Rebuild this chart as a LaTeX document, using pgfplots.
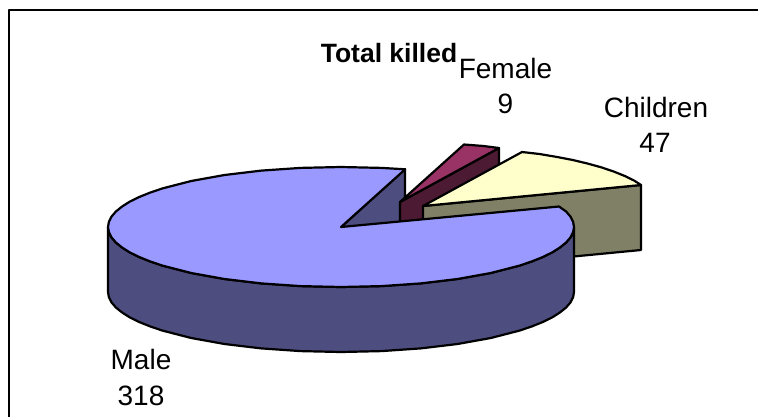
\documentclass[border=0pt]{standalone}
\usepackage{pgfplots}
\pgfplotsset{compat=1.18}
\usepackage{fontspec}
\setmainfont{Liberation Sans}
\definecolor{maletop}{HTML}{9999FF}
\definecolor{maleside}{HTML}{4D4D80}
\definecolor{femtop}{HTML}{993366}
\definecolor{femside}{HTML}{4D1A33}
\definecolor{chitop}{HTML}{FFFFCC}
\definecolor{chiside}{HTML}{808066}
\newcommand{\lbl}[3]{\node[anchor=base,inner sep=0pt,font=\fontsize{28}{32}\selectfont] at (axis cs:#1,#2) {#3};}
\begin{document}
\begin{tikzpicture}
\path[use as bounding box] (0,0) rectangle (758pt,416pt);
\begin{axis}[
  scale only axis, width=758pt, height=416pt,
  xmin=0, xmax=758, ymin=0, ymax=416, y dir=reverse,
  hide axis, clip=true,
  every axis plot/.append style={line width=2.2pt, line join=round, black},
]
% frame
\addplot[line width=1.8pt, black] coordinates {(759,10) (9,10) (9,417)};
% male inner wall
\addplot[fill=maleside] coordinates {(341,227) (405,169) (405,234) (341,292)} -- cycle;
% female wall and top
\addplot[fill=femside] coordinates {(400,202) (499,148) (499,213) (400,267)} -- cycle;
\addplot[fill=femtop] coordinates {(400,202) (464,144.5) (483.5,146) (499,148)} -- cycle;
% children wall and top
\addplot[fill=chiside] coordinates {(423,206) (641,185) (641,250) (423,271)} -- cycle;
\addplot[fill=chitop] coordinates {(423,206) (522,152) (539.5,154) (556.6,156.9) (572.8,160) (587.8,163.6) (601.5,167.4) (613.9,171.6) (624.8,176) (634.2,180.6) (641,185)} -- cycle;
% male outer side
\addplot[fill=maleside] coordinates {
 (108,227) (108.9,232.2) (111.5,237.4) (115.9,242.5) (122.1,247.5) (129.8,252.4) (139.2,257) (150.1,261.4) (162.5,265.6) (191.2,273) (224.5,279)
 (261.3,283.4) (300.5,286.1) (341,287) (381.5,286.1) (420.7,283.4) (457.5,279) (490.8,273) (519.5,265.6) (531.9,261.4)
 (542.8,257) (552.2,252.4) (559.9,247.5) (566.1,242.5) (570.5,237.4) (573.1,232.2) (574,227)
 (574,292) (573.1,297.2) (570.5,302.4) (566.1,307.5) (559.9,312.5) (552.2,317.4) (542.8,322) (531.9,326.4) (519.5,330.6) (490.8,338) (457.5,344)
 (420.7,348.4) (381.5,351.1) (341,352) (300.5,351.1) (261.3,348.4) (224.5,344) (191.2,338) (162.5,330.6) (150.1,326.4)
 (139.2,322) (129.8,317.4) (122.1,312.5) (115.9,307.5) (111.5,302.4) (108.9,297.2) (108,292)} -- cycle;
% male top
\addplot[fill=maletop] coordinates {
 (341,227) (405.2,169.3) (381.5,167.9) (341,167) (300.5,167.9) (261.3,170.6) (224.5,175) (191.2,181) (162.5,188.4) (150.1,192.6)
 (139.2,197) (129.8,201.6) (122.1,206.5) (115.9,211.5) (111.5,216.6) (108.9,221.8) (108,227) (108.9,232.2) (111.5,237.4) (115.9,242.5)
 (122.1,247.5) (129.8,252.4) (139.2,257) (150.1,261.4) (162.5,265.6) (191.2,273) (224.5,279) (261.3,283.4) (300.5,286.1) (341,287)
 (381.5,286.1) (420.7,283.4) (457.5,279) (490.8,273) (519.5,265.6) (531.9,261.4) (542.8,257) (552.2,252.4) (559.9,247.5) (566.1,242.5)
 (570.5,237.4) (573.1,232.2) (574,227) (573.1,221.8) (570.5,216.6) (566.1,211.5) (559,206.5)} -- cycle;
% labels
\node[anchor=base,inner sep=0pt,font=\fontsize{26.5}{30}\selectfont\bfseries] at (axis cs:389,62) {Total killed};
\lbl{505.5}{78}{Female}
\lbl{505.5}{113}{9}
\lbl{656}{117}{Children}
\lbl{655}{152}{47}
\lbl{141}{369}{Male}
\lbl{141}{405}{318}
\end{axis}
\end{tikzpicture}
\end{document}
